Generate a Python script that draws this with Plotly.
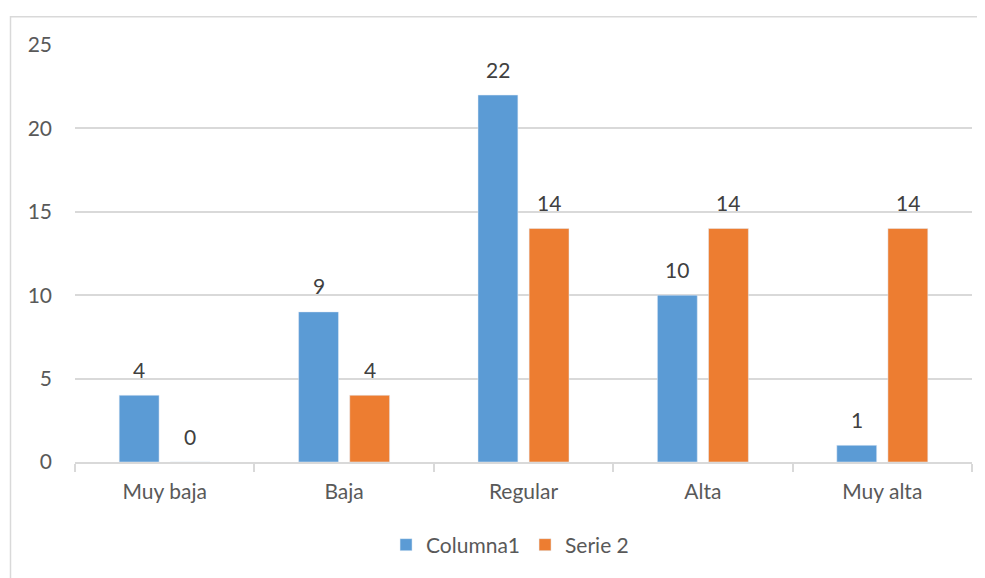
import plotly.graph_objects as go

categories = ["Muy baja", "Baja", "Regular", "Alta", "Muy alta"]
columna1 = [4, 9, 22, 10, 1]
serie2 = [0, 4, 14, 14, 14]
y_ticks = [0, 5, 10, 15, 20, 25]

# page body has an 8px margin, so the figure is offset by 8px
W, H = 977, 570
L, R, T, B = 67, 13, 37, 111
pw, ph = W - L - R, H - T - B

FONT = "Lato, Open Sans, Liberation Sans, sans-serif"
label_font = dict(family=FONT, size=21, color="#404040")

fig = go.Figure()
fig.add_trace(go.Bar(x=categories, y=columna1, name="Columna1", marker_color="#5B9BD5"))
fig.add_trace(go.Bar(x=categories, y=serie2, name="Serie 2", marker_color="#ED7D31"))

# data labels above each bar
for vals, shift in [(columna1, -25.5), (serie2, 25.5)]:
    for c, v in zip(categories, vals):
        fig.add_annotation(x=c, y=v, text=str(v), showarrow=False,
                           xshift=shift, yshift=26, yanchor="middle",
                           font=label_font)

# light chart border like the Excel chart area
fig.add_shape(
    type="rect", xref="paper", yref="paper",
    x0=(2.5 - L) / pw, x1=(1000 - L) / pw,
    y0=-(620 - (H - B)) / ph, y1=1 + (T - 8.5) / ph,
    line=dict(color="#d9d9d9", width=1.5),
)

fig.update_layout(
    width=W, height=H,
    margin=dict(l=L, r=R, t=T, b=B),
    paper_bgcolor="white", plot_bgcolor="white",
    barmode="group", bargap=0.43, bargroupgap=0.22,
    font=dict(family=FONT, size=21, color="#595959"),
    showlegend=True,
    legend=dict(orientation="h", x=0.485, xanchor="center",
                y=-(543 - (H - B)) / ph, yanchor="middle",
                font=dict(size=21, color="#595959"), itemwidth=30,
                traceorder="normal"),
    xaxis=dict(
        showgrid=False, showline=True, linecolor="#d9d9d9", linewidth=1.5,
        ticks="outside", tickson="boundaries", ticklen=8,
        tickcolor="#d9d9d9", tickwidth=1.5, ticklabelstandoff=10,
    ),
    yaxis=dict(
        range=[0, 25], tickvals=y_ticks, showgrid=True,
        gridcolor="#d9d9d9", gridwidth=1.5, zeroline=False, showline=False,
        ticklabelstandoff=22,
    ),
)

fig.write_html("out.html")
